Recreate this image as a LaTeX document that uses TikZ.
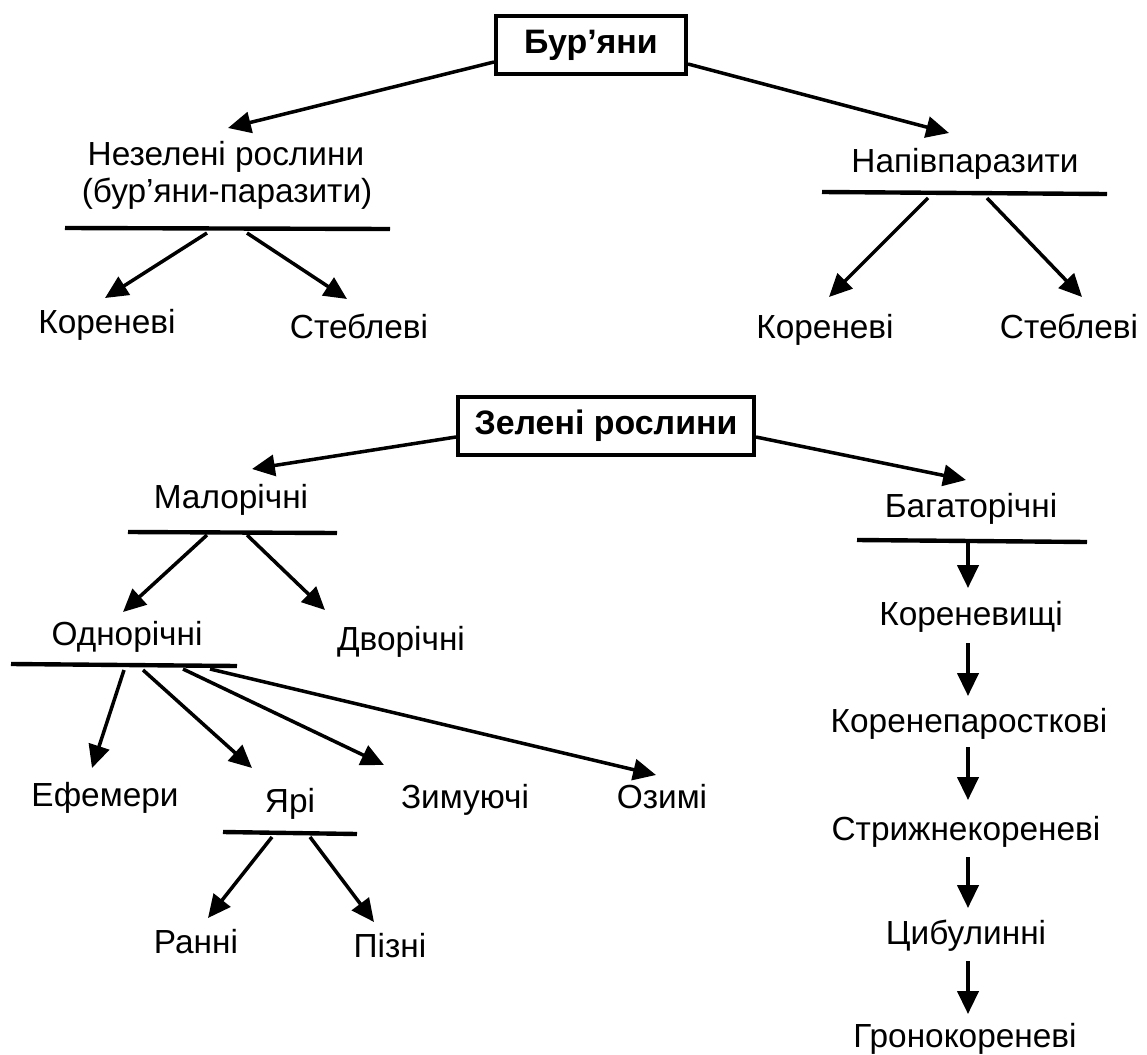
\documentclass[tikz,border=0pt]{standalone}
\usepackage{fontspec}
\setmainfont{Liberation Sans}
\usetikzlibrary{arrows.meta}
\begin{document}
\begin{tikzpicture}[x=0.02cm,y=-0.02cm,
  lbl/.style={font=\fontsize{19}{22}\selectfont, inner sep=0pt, anchor=base},
  ttl/.style={draw, line width=2.3pt, font=\fontsize{19.3}{22}\selectfont\bfseries, inner sep=0pt, minimum height=1.16cm},
  bar/.style={line width=2.5pt},
  arr/.style={line width=2pt, -{Triangle[length=13pt,width=12pt]}}]
\useasboundingbox (0,0) rectangle (1147,1055);
\fill[white] (0,0) rectangle (1147,1055);

% ---------- Бур'яни ----------
\node[ttl, minimum width=3.8cm] (bur) at (591,45) {Бур’яни};
\node[lbl] (nez1) at (226,165) {Незелені рослини};
\node[lbl] (nez2) at (227,202) {(бур’яни-паразити)};
\node[lbl] (nap) at (965,172) {Напівпаразити};
\node[lbl] (k1) at (107,333) {Кореневі};
\node[lbl] (s1) at (359,338) {Стеблеві};
\node[lbl] (k2) at (825,338) {Кореневі};
\node[lbl] (s2) at (1069,338) {Стеблеві};

\coordinate (nezL) at (65,228); \coordinate (nezR) at (390,229);
\coordinate (napL) at (822,192); \coordinate (napR) at (1107,194);
\draw[bar] (nezL) -- (nezR);
\draw[bar] (napL) -- (napR);

\coordinate (bA) at (bur.west|-0,62);
\coordinate (bB) at (bur.east|-0,64);
\coordinate (tNez) at (228,128);
\coordinate (tNap) at (949,133);
\draw[arr] (bA) -- (tNez);
\draw[arr] (bB) -- (tNap);

\coordinate (n1) at (207,233); \coordinate (tk1) at (105,298);
\coordinate (n2) at (247,233); \coordinate (ts1) at (347,299);
\draw[arr] (n1) -- (tk1);
\draw[arr] (n2) -- (ts1);
\coordinate (p1) at (928,198); \coordinate (tk2) at (829,297);
\coordinate (p2) at (987,198); \coordinate (ts2) at (1082,297);
\draw[arr] (p1) -- (tk2);
\draw[arr] (p2) -- (ts2);

% ---------- Зелені рослини ----------
\node[ttl, minimum width=5.92cm] (zel) at (606,426) {Зелені рослини};
\node[lbl] (mal) at (231,508) {Малорічні};
\node[lbl] (bag) at (971,517) {Багаторічні};
\coordinate (zA) at (zel.west|-0,437);
\coordinate (zB) at (zel.east|-0,437);
\coordinate (tMal) at (252,469);
\coordinate (tBag) at (966,480);
\draw[arr] (zA) -- (tMal);
\draw[arr] (zB) -- (tBag);

\coordinate (malL) at (128,532); \coordinate (malR) at (337,533);
\draw[bar] (malL) -- (malR);
\node[lbl] (odn) at (127,645) {Однорічні};
\node[lbl] (dvo) at (401,650) {Дворічні};
\coordinate (m1) at (207,535); \coordinate (tOdn) at (123,612);
\coordinate (m2) at (247,535); \coordinate (tDvo) at (325,610);
\draw[arr] (m1) -- (tOdn);
\draw[arr] (m2) -- (tDvo);

\coordinate (odnL) at (11,664); \coordinate (odnR) at (237,666);
\draw[bar] (odnL) -- (odnR);
\node[lbl] (efe) at (105,806) {Ефемери};
\node[lbl] (yar) at (290,812) {Ярі};
\node[lbl] (zym) at (465,808) {Зимуючі};
\node[lbl] (ozy) at (662,808) {Озимі};
\coordinate (o1) at (124,670); \coordinate (tEfe) at (92,768);
\coordinate (o2) at (143,670); \coordinate (tYar) at (252,768);
\coordinate (o3) at (183,669); \coordinate (tZym) at (384,765);
\coordinate (o4) at (210,669); \coordinate (tOzy) at (656,775);
\draw[arr] (o1) -- (tEfe);
\draw[arr] (o2) -- (tYar);
\draw[arr] (o3) -- (tZym);
\draw[arr] (o4) -- (tOzy);

\coordinate (yarL) at (223,832); \coordinate (yarR) at (357,834);
\draw[bar] (yarL) -- (yarR);
\node[lbl] (ran) at (196,953) {Ранні};
\node[lbl] (piz) at (390,957) {Пізні};
\coordinate (y1) at (272,837); \coordinate (tRan) at (208,918);
\coordinate (y2) at (310,837); \coordinate (tPiz) at (374,922);
\draw[arr] (y1) -- (tRan);
\draw[arr] (y2) -- (tPiz);

% ---------- Багаторічні ----------
\coordinate (bagL) at (857,540); \coordinate (bagR) at (1087,542);
\draw[bar] (bagL) -- (bagR);
\node[lbl] (kv) at (971,625) {Кореневищі};
\node[lbl] (kp) at (969,732) {Коренепаросткові};
\node[lbl] (st) at (966,840) {Стрижнекореневі};
\node[lbl] (cy) at (966,944) {Цибулинні};
\node[lbl] (gr) at (965,1047) {Гронокореневі};
\coordinate (g0) at (968,543); \coordinate (g1) at (968,588);
\coordinate (g2) at (968,643); \coordinate (g3) at (968,696);
\coordinate (g4) at (968,747); \coordinate (g5) at (968,800);
\coordinate (g6) at (968,857); \coordinate (g7) at (968,908);
\coordinate (g8) at (968,961); \coordinate (g9) at (968,1014);
\draw[arr] (g0) -- (g1);
\draw[arr] (g2) -- (g3);
\draw[arr] (g4) -- (g5);
\draw[arr] (g6) -- (g7);
\draw[arr] (g8) -- (g9);
\end{tikzpicture}
\end{document}
